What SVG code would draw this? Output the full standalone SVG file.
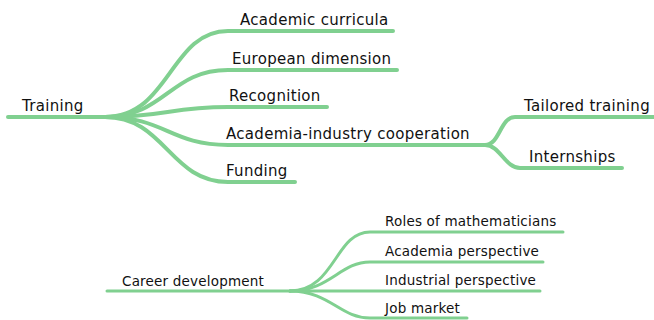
<svg xmlns="http://www.w3.org/2000/svg" width="654" height="320" viewBox="0 0 654 320">
<style>
.c{fill:none;stroke:#80d090;stroke-linecap:round}
.t{stroke-width:4}
.b{stroke-width:3}
text{font-family:"DejaVu Sans","Liberation Sans",sans-serif;fill:#111}
.l{font-size:15px;letter-spacing:0.3px}
.s{font-size:13.5px;letter-spacing:0.2px}
</style>
<rect width="654" height="320" fill="#fff"/>
<g id="connectors">
<path class="c t" d="M8,117 L105,117"/>
<path class="c t" d="M105,117 C170,117 170,31 228,31 L393,31"/>
<path class="c t" d="M105,117 C165,117 170,70 228,70 L397,70"/>
<path class="c t" d="M105,117 C165,117 170,107 228,107 L327,107"/>
<path class="c t" d="M105,117 C165,117 170,145 228,145 L485,145"/>
<path class="c t" d="M105,117 C165,117 170,182 228,182 L295,182"/>
<path class="c t" d="M485,145 C500,145 500,117 515,117 L654,117"/>
<path class="c t" d="M485,145 C500,145 505,168 520,168 L622,168"/>
<path class="c b" d="M107,291 L290,291"/>
<path class="c b" d="M290,291 C335,291 335,232 370,232 L563,232"/>
<path class="c b" d="M290,291 C330,291 340,262 370,262 L543,262"/>
<path class="c b" d="M290,291 L540,291"/>
<path class="c b" d="M290,291 C330,291 340,318 370,318 L467,318"/>
</g>
<g id="n-training"><text class="l" x="22" y="111">Training</text></g>
<g id="n-academic-curricula"><text class="l" x="240" y="25">Academic curricula</text></g>
<g id="n-european-dimension"><text class="l" x="232" y="64">European dimension</text></g>
<g id="n-recognition"><text class="l" x="229" y="101">Recognition</text></g>
<g id="n-academia-industry"><text class="l" x="226" y="139">Academia-industry cooperation</text></g>
<g id="n-funding"><text class="l" x="226" y="176">Funding</text></g>
<g id="n-tailored-training"><text class="l" x="524" y="111">Tailored training</text></g>
<g id="n-internships"><text class="l" x="529" y="162">Internships</text></g>
<g id="n-career-development"><text class="s" x="122" y="286">Career development</text></g>
<g id="n-roles"><text class="s" x="385" y="226">Roles of mathematicians</text></g>
<g id="n-academia-perspective"><text class="s" x="385" y="256">Academia perspective</text></g>
<g id="n-industrial-perspective"><text class="s" x="385" y="285">Industrial perspective</text></g>
<g id="n-job-market"><text class="s" x="385" y="313">Job market</text></g>
</svg>
